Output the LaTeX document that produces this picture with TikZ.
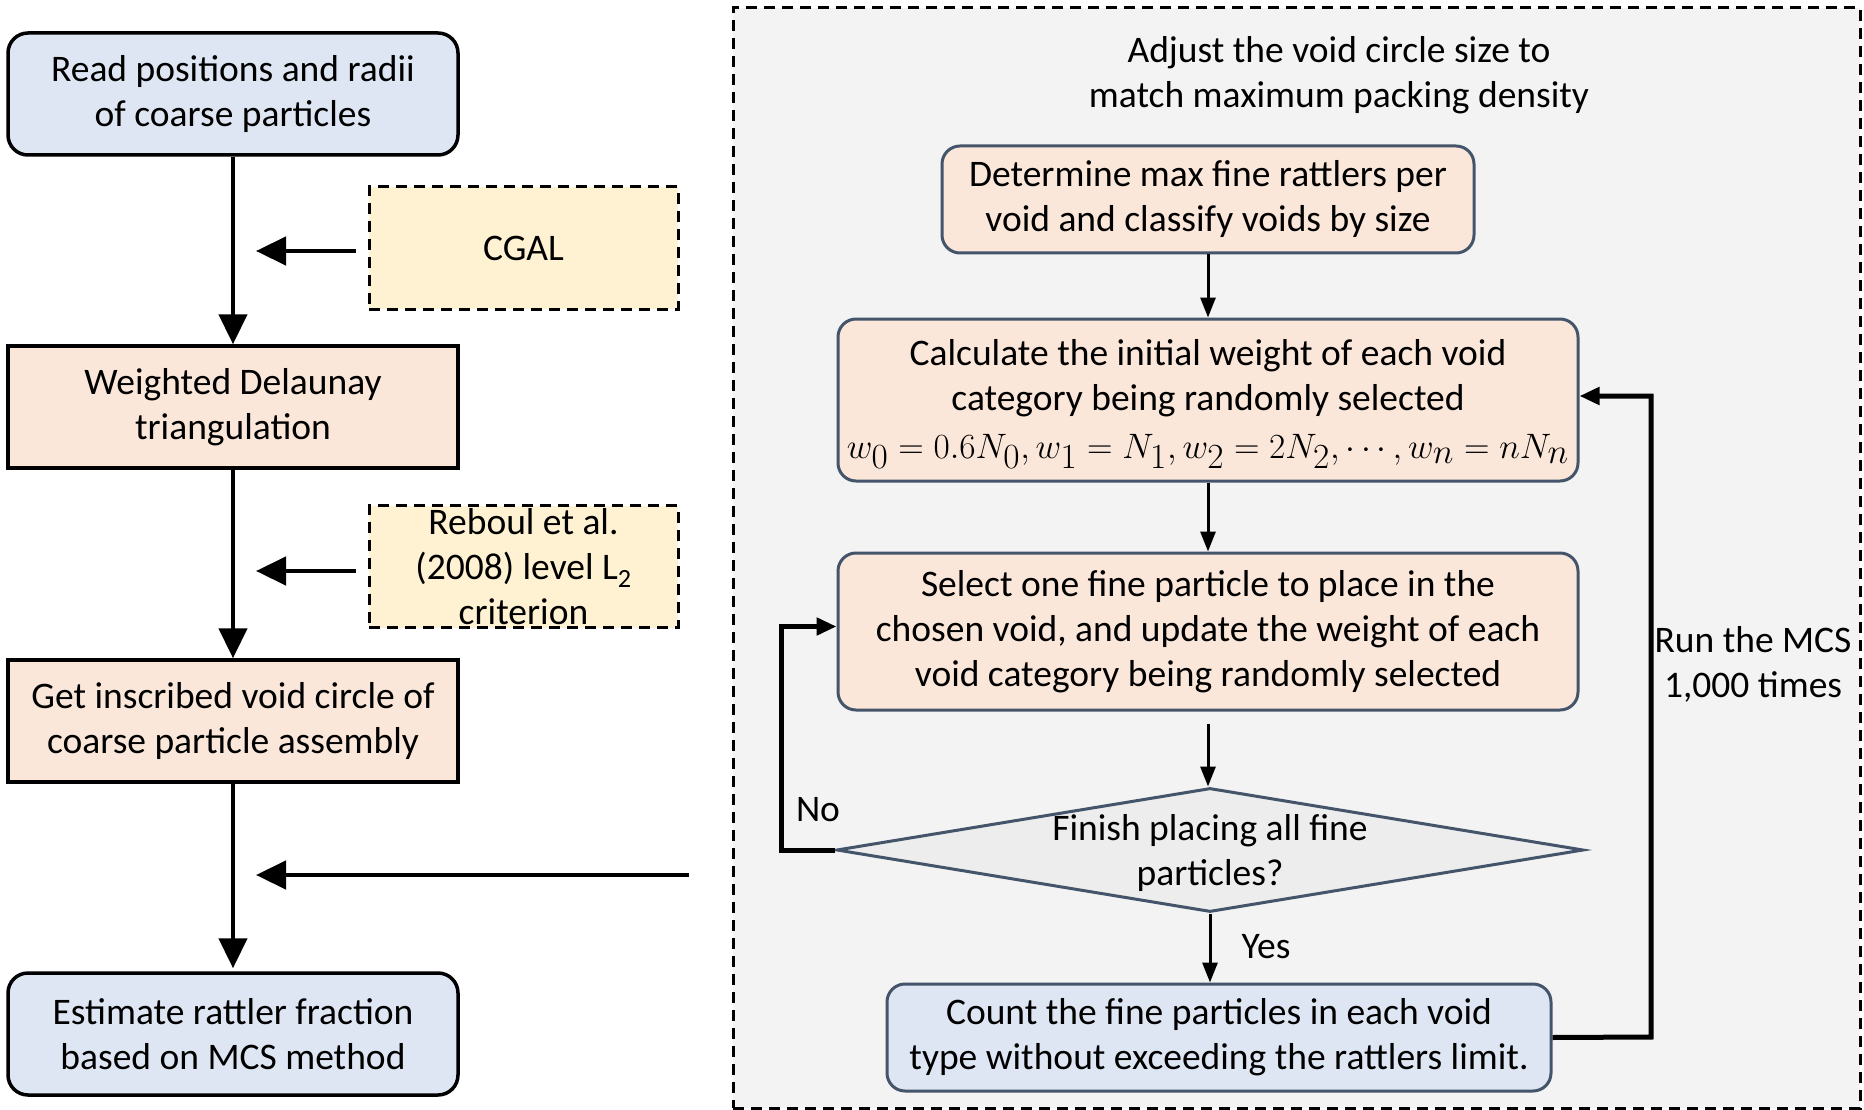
\documentclass[tikz,border=0pt]{standalone}
\usepackage{fontspec}
\setmainfont{Carlito}
\usetikzlibrary{arrows.meta,shapes.geometric,calc}
\definecolor{bluefill}{HTML}{DEE6F3}
\definecolor{orangefill}{HTML}{FBE7DA}
\definecolor{yellowfill}{HTML}{FFF2D2}
\definecolor{greybg}{HTML}{F3F3F3}
\definecolor{diafill}{HTML}{EDEDED}
\definecolor{slate}{HTML}{44546A}
\begin{document}
\begin{tikzpicture}[x=1pt,y=-1pt,
  every node/.style={font=\fontsize{37.5}{45}\selectfont, align=center, inner sep=0pt},
  leftbox/.style={draw=black, line width=3.5pt, minimum width=450pt, minimum height=122pt},
  leftround/.style={leftbox, rounded corners=20pt, fill=bluefill},
  leftsq/.style={leftbox, fill=orangefill},
  helpbox/.style={draw=black, line width=3pt, dash pattern=on 11pt off 7pt, fill=yellowfill, minimum width=309pt, minimum height=122pt},
  rbox/.style={draw=slate, line width=3pt, rounded corners=18pt},
  bigarr/.style={line width=4.5pt, -{Triangle[length=30pt,width=28pt]}},
  smarr/.style={line width=3pt, -{Triangle[length=20pt,width=15pt]}},
  looparr/.style={line width=5pt, -{Triangle[length=20pt,width=17pt]}}
]
\useasboundingbox (0,0) rectangle (1864,1110);
% right frame
\node[draw=black, line width=3pt, dash pattern=on 11pt off 7pt, fill=greybg, minimum width=1127pt, minimum height=1100pt] (frame) at (1296.5,558) {};
% left column
\node[leftround] (b1) at (233,94) {Read positions and radii\\of coarse particles};
\node[leftsq] (b2) at (233,407) {Weighted Delaunay\\triangulation};
\node[leftsq] (b3) at (233,721) {Get inscribed void circle of\\coarse particle assembly};
\node[leftround] (b4) at (233,1034) {Estimate rattler fraction\\based on MCS method};
\node[helpbox] (cgal) at (523.5,248) {CGAL};
\node[helpbox] (reb) at (523.5,566.5) {Reboul et al.\\(2008) level L\textsubscript{2}\\criterion};
\draw[bigarr] (b1) -- (b2);
\draw[bigarr] (b2) -- (b3);
\draw[bigarr, shorten >=-1pt] (b3.south) -- ([yshift=4pt]b4.north);
\coordinate (c1) at (256,251);
\coordinate (c2) at (256,571);
\coordinate (c3) at (256,875);
\draw[bigarr, shorten <=12pt] (cgal.west |- c1) -- (c1);
\draw[bigarr, shorten <=12pt] (reb.west |- c2) -- (c2);
\draw[bigarr, shorten <=43pt] (frame.west |- c3) -- (c3);
% right side
\node (title) at (1339,75) {Adjust the void circle size to\\match maximum packing density};
\node[rbox, fill=orangefill, minimum width=532pt, minimum height=107pt] (A) at (1208,199.5) {Determine max fine rattlers per\\void and classify voids by size};
\node[rbox, fill=orangefill, minimum width=740pt, minimum height=162pt] (B) at (1208,400) {};
\node at (1208,404) {Calculate the initial weight of each void\\category being randomly selected\\[3pt]\scalebox{1.42}{$w_0=0.6N_0, w_1=N_1, w_2=2N_2,\cdots, w_n=nN_n$}};
\node[rbox, fill=orangefill, minimum width=740pt, minimum height=157pt] (C) at (1208,631.5) {Select one fine particle to place in the\\chosen void, and update the weight of each\\void category being randomly selected};
\node[diamond, draw=slate, line width=3pt, fill=diafill, aspect=6, minimum width=747pt, minimum height=124pt] (dia) at (1210,850) {};
\node at (1210,853) {Finish placing all fine\\particles?};
\node[rbox, fill=bluefill, minimum width=664pt, minimum height=107pt] (D) at (1219,1037.5) {Count the fine particles in each void\\type without exceeding the rattlers limit.};
\draw[smarr] (A.south) -- (A.south |- B.north);
\draw[smarr] (B.south) -- (B.south |- C.north);
\draw[smarr, shorten <=12pt] (C.south) -- (C.south |- dia.north);
\draw[smarr] (dia.south) -- (dia.south |- D.north);
\coordinate (noc) at (781,850);
\draw[looparr] (dia.west) -- (noc) |- ([yshift=5pt]C.west);
\coordinate (runc) at (1651,1037);
\draw[looparr] (D.east) -- (runc) |- ([yshift=4pt]B.east);
\node (no) at (818,810) {No};
\node (yes) at (1266,947) {Yes};
\node (run) at (1753,664) {Run the MCS\\1,000 times};
\end{tikzpicture}
\end{document}
